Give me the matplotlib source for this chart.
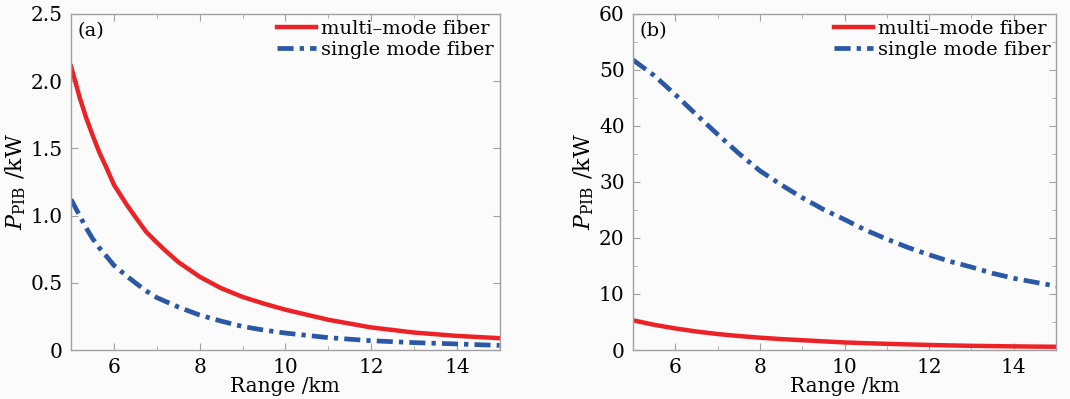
import matplotlib
matplotlib.use("Agg")
import matplotlib.pyplot as plt
from matplotlib.ticker import MultipleLocator, FuncFormatter

plt.rcParams['font.family'] = ['DejaVu Serif']
plt.rcParams['mathtext.fontset'] = 'dejavuserif'

# Panel (a)
range_a = [5.0, 5.2, 5.35, 5.5, 5.66, 5.82, 6.0, 6.3, 6.5, 6.75, 7.0, 7.25, 7.5,
           8.0, 8.5, 9.0, 9.5, 10.0, 11.0, 12.0, 13.0, 14.0, 15.0]
multi_a = [2.11, 1.88, 1.73, 1.60, 1.47, 1.36, 1.23, 1.08, 0.99, 0.88, 0.80, 0.725, 0.655,
           0.545, 0.46, 0.395, 0.345, 0.30, 0.225, 0.168, 0.13, 0.105, 0.088]
single_a = [1.12, 1.00, 0.91, 0.83, 0.76, 0.70, 0.63, 0.55, 0.50, 0.44, 0.39, 0.355, 0.32,
            0.26, 0.215, 0.175, 0.148, 0.126, 0.092, 0.069, 0.055, 0.045, 0.034]

# Panel (b)
range_b = [5.0, 5.5, 6.0, 6.5, 7.0, 7.5, 8.0, 8.5, 9.0, 9.5, 10.0, 10.5, 11.0,
           11.5, 12.0, 12.5, 13.0, 13.5, 14.0, 14.5, 15.0]
multi_b = [5.3, 4.5, 3.85, 3.3, 2.85, 2.5, 2.2, 1.95, 1.75, 1.55, 1.35, 1.22, 1.1,
           1.0, 0.9, 0.82, 0.75, 0.7, 0.65, 0.61, 0.58]
single_b = [51.8, 49.0, 45.6, 42.0, 38.5, 35.1, 32.0, 29.5, 27.2, 25.1, 23.3, 21.4, 19.8,
            18.3, 17.0, 15.8, 14.8, 13.7, 12.8, 12.1, 11.4]

labels = ["multi\u2013mode fiber", "single mode fiber"]
red = "#EC2227"
blue = "#2A57A6"
grey = "#A0A0A0"

fig = plt.figure(figsize=(10.7, 3.99), dpi=100, facecolor='#fbfbfb')
ax1 = fig.add_axes([0.0664, 0.1228, 0.4006, 0.8422])
ax2 = fig.add_axes([0.5916, 0.1228, 0.3954, 0.8422])

for ax, xr, m, s, ylim, ymaj, ymin, tag, intfmt in [
    (ax1, range_a, multi_a, single_a, 2.5, 0.5, None, "(a)", False),
    (ax2, range_b, multi_b, single_b, 60, 10, 5, "(b)", True),
]:
    ax.set_facecolor('#fbfbfb')
    ax.plot(xr, m, color=red, lw=3.2, ls='-', label=labels[0])
    ax.plot(xr, s, color=blue, lw=3.4, ls=(0, (3.4, 1.3, 0.9, 1.3)), label=labels[1])
    ax.set_xlim(5, 15)
    ax.set_ylim(0, ylim)
    ax.xaxis.set_major_locator(MultipleLocator(2))
    ax.xaxis.set_minor_locator(MultipleLocator(1))
    ax.yaxis.set_major_locator(MultipleLocator(ymaj))
    if ymin:
        ax.yaxis.set_minor_locator(MultipleLocator(ymin))
    if intfmt:
        ax.yaxis.set_major_formatter(FuncFormatter(lambda v, p: "%d" % round(v)))
    else:
        ax.yaxis.set_major_formatter(FuncFormatter(lambda v, p: "0" if abs(v) < 1e-9 else "%.1f" % v))
    ax.tick_params(which='both', direction='in', top=True, right=True, color=grey,
                   labelsize=14.5, pad=6)
    ax.tick_params(which='major', length=5)
    ax.tick_params(which='minor', length=3)
    for sp in ax.spines.values():
        sp.set_color(grey)
        sp.set_linewidth(1.0)
    ax.set_xlabel("Range /km", fontsize=14.5, labelpad=0)
    ax.set_ylabel(r"$P_{\rm PIB}$ /kW", fontsize=16, labelpad=2)
    ax.text(0.015, 0.975, tag, transform=ax.transAxes, ha='left', va='top', fontsize=14)
    ax.legend(loc='upper right', frameon=False, fontsize=14, handlelength=2.0,
              handletextpad=0.25, labelspacing=0.15, borderaxespad=0.1, borderpad=0.2)

fig.savefig("out.png", dpi=100, facecolor=fig.get_facecolor())
